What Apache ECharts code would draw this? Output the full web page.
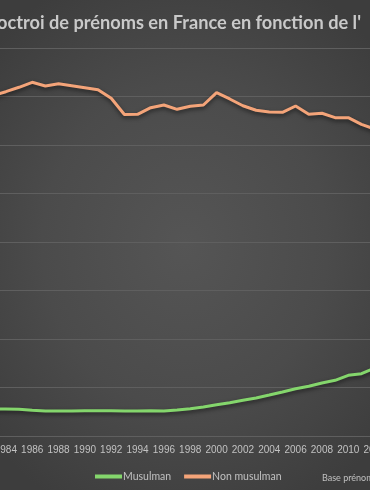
<!DOCTYPE html>
<html>
<head>
<meta charset="utf-8">
<script src="https://cdn.jsdelivr.net/npm/echarts@6/dist/echarts.min.js"></script>
<style>
html,body{margin:0;padding:0;width:370px;height:490px;overflow:hidden;
background:radial-gradient(ellipse 70% 60% at 50% 50%, #555555 0%, #4b4b4b 55%, #3d3d3d 100%);}
#c{position:absolute;left:-100px;top:0;width:570px;height:490px;}
</style>
</head>
<body>
<div id="c"></div>
<script>
const years = ['1983','1984','1985','1986','1987','1988','1989','1990','1991','1992','1993','1994','1995','1996','1997','1998','1999','2000','2001','2002','2003','2004','2005','2006','2007','2008','2009','2010','2011','2012'];
const musulman = [55700,55700,55100,53000,51500,51500,51500,52200,52200,52200,51500,51500,52200,51500,53600,56300,59800,64500,68700,73600,78400,84500,90700,97500,102500,109300,114800,125200,128500,140200];
const nonMusulman = [701700,709900,719000,729300,721700,726400,722300,718200,714000,696300,662900,663300,676900,682500,673600,679800,682500,707900,694900,681000,671600,668100,667400,680400,663300,665400,656300,656300,642700,633000];
const seriesNames = ['Musulman','Non musulman'];
const titleText = "octroi de prénoms en France en fonction de l'";
const sourceText = 'Base prénoms';

const chart = echarts.init(document.getElementById('c'), null, {renderer:'canvas'});
const shadow = {shadowColor:'rgba(0,0,0,0.55)', shadowBlur:4, shadowOffsetY:2};
chart.setOption({
  backgroundColor:'transparent',
  animation:false,
  title:{text:titleText,left:97,top:14,padding:0,
    textStyle:{fontFamily:'Lato',fontWeight:'bold',fontSize:18.2,color:'#c9c9c9'}},
  grid:{left:86.1,right:88.8,top:48,bottom:54},
  legend:{data:seriesNames,left:195,top:471,padding:0,itemWidth:27,itemHeight:4,itemGap:13,icon:'rect',
    textStyle:{fontFamily:'Lato',fontSize:10.5,color:'#c0c0c0',padding:[0,0,0,-4]}},
  xAxis:{type:'category',data:years,boundaryGap:true,
    axisLine:{show:true,lineStyle:{color:'#5f5f5f'}},axisTick:{show:false},
    axisLabel:{interval:function(i,v){return (+v)%2===0;},margin:9,
      fontFamily:'Liberation Sans',fontSize:10,color:'#c2c2c2'}},
  yAxis:{type:'value',min:0,max:800000,interval:100000,
    axisLabel:{show:false},axisLine:{show:false},axisTick:{show:false},
    splitLine:{lineStyle:{color:'#5f5f5f',width:1}}},
  graphic:[{type:'text',left:422,top:474,style:{text:sourceText,fontFamily:'Lato',fontSize:9,fill:'#c0c0c0'}}],
  series:[
    {name:seriesNames[0],type:'line',data:musulman,symbol:'none',color:'#84d66c',
      lineStyle:Object.assign({width:3,color:'#84d66c'},shadow)},
    {name:seriesNames[1],type:'line',data:nonMusulman,symbol:'none',color:'#f4a479',
      lineStyle:Object.assign({width:3,color:'#f4a479'},shadow)}
  ]
});
</script>
</body>
</html>
